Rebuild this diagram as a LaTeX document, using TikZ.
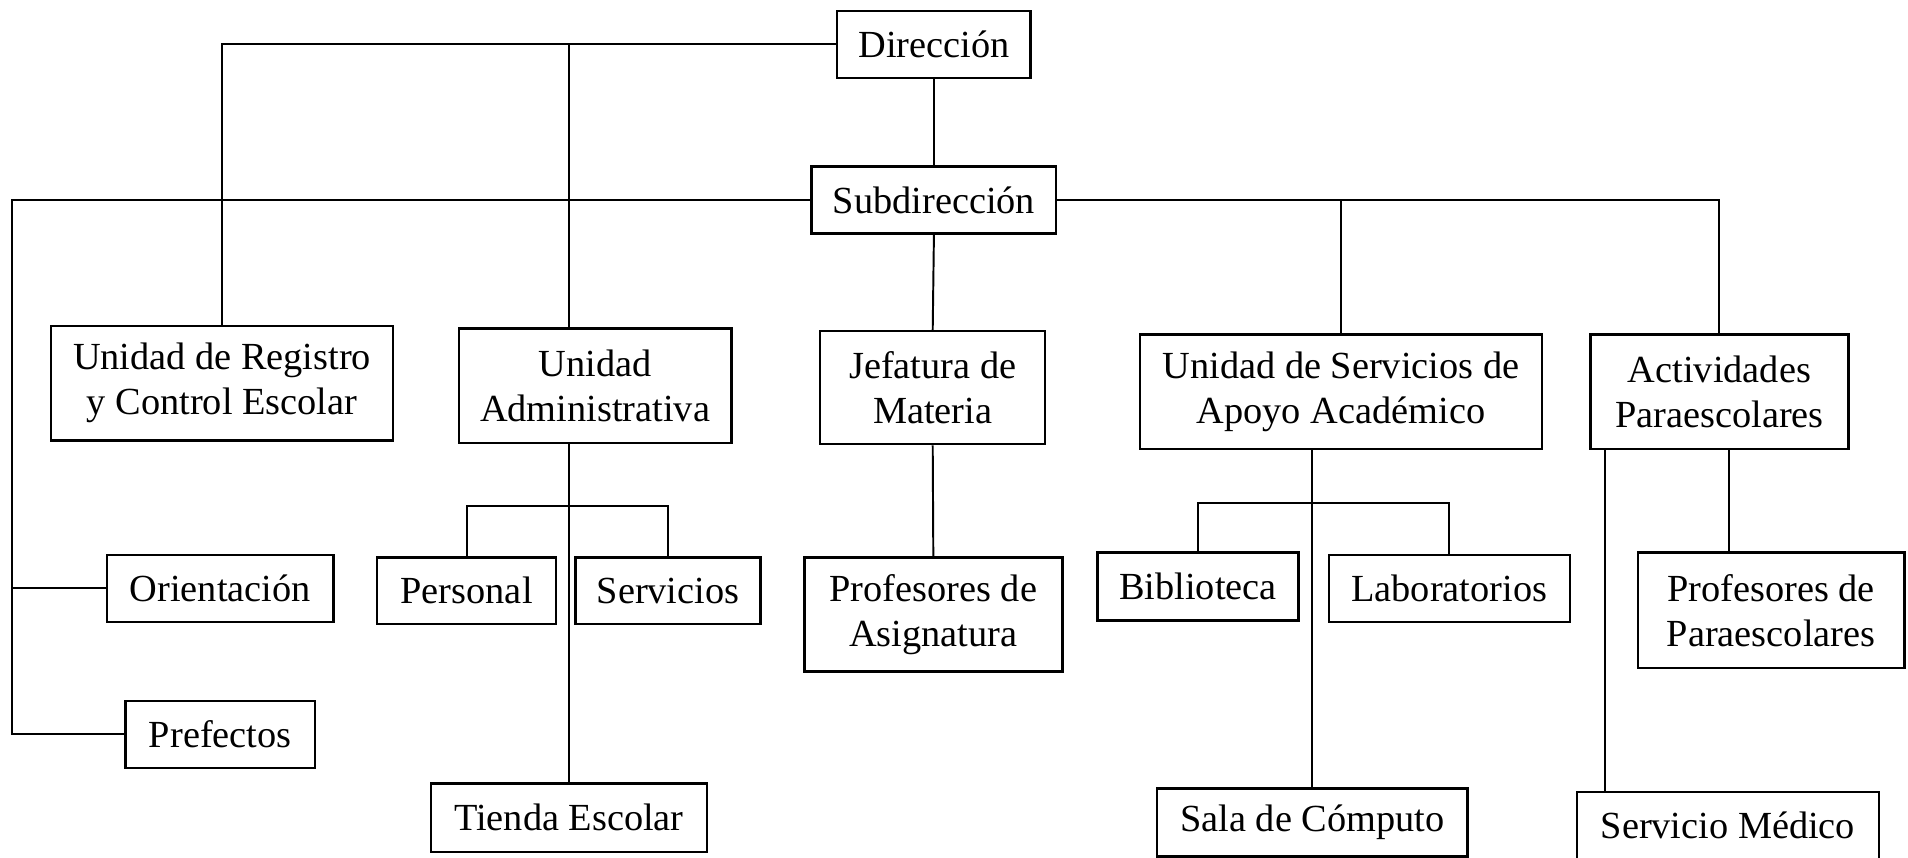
\documentclass[tikz,border=0pt]{standalone}
\usepackage{fontspec}
\setmainfont{Liberation Serif}
\tikzset{>=stealth}

\begin{document}
\begin{tikzpicture}[x=1pt,y=-1pt,
  box/.style={draw, line width=2pt, inner sep=0pt, align=center, font=\fontsize{31.5}{37}\selectfont},
  con/.style={line width=1.6pt}]
\useasboundingbox (0,0) rectangle (1568,705);
\node[box, minimum width=159, minimum height=55] (dir) at (767.5,36.5) {Dirección};
\node[box, minimum width=201, minimum height=55] (subdir) at (767.5,164.5) {Subdirección};
\node[box, minimum width=281, minimum height=94] (registro) at (182.5,315) {Unidad de Registro\\y Control Escolar};
\node[box, minimum width=224, minimum height=94] (admin) at (489,317) {Unidad\\Administrativa};
\node[box, minimum width=185, minimum height=93] (jefatura) at (766.5,318.5) {Jefatura de\\Materia};
\node[box, minimum width=330, minimum height=94] (apoyo) at (1102,322) {Unidad de Servicios de\\Apoyo Académico};
\node[box, minimum width=212, minimum height=94] (activ) at (1413,322) {Actividades\\Paraescolares};
\node[box, minimum width=186, minimum height=55] (orient) at (181,483.5) {Orientación};
\node[box, minimum width=156, minimum height=55] (prefectos) at (181,603.5) {Prefectos};
\node[box, minimum width=147, minimum height=55] (personal) at (383.5,485.5) {Personal};
\node[box, minimum width=152, minimum height=55] (servicios) at (549,485.5) {Servicios};
\node[box, minimum width=227, minimum height=56] (tienda) at (467.5,672) {Tienda Escolar};
\node[box, minimum width=212, minimum height=94] (profasig) at (767,505) {Profesores de\\Asignatura};
\node[box, minimum width=165, minimum height=56] (biblio) at (984.5,482) {Biblioteca};
\node[box, minimum width=198, minimum height=55] (labs) at (1191,483.5) {Laboratorios};
\node[box, minimum width=255, minimum height=56] (sala) at (1078.5,676) {Sala de Cómputo};
\node[box, minimum width=219, minimum height=95] (profpara) at (1455.5,501.5) {Profesores de\\Paraescolares};
\node[box, minimum width=248, minimum height=55] (medico) at (1420,678.5) {Servicio Médico};
\coordinate (lft) at (10,0);
\coordinate (mstem) at ([xshift=24pt]medico.north west);
\coordinate (pstem) at ([xshift=8pt]activ.south);
\draw[con] (dir.west) -| (registro.north);
\draw[con] (dir.west -| tienda) -- (admin.north -| tienda);
\draw[con] (admin.south -| tienda) -- (tienda.north);
\draw[con] (dir.south) -- (subdir.north);
\draw[con] (subdir.west) -| (lft |- prefectos.west) -- (prefectos.west);
\draw[con] (lft |- orient.west) -- (orient.west);
\draw[con] (subdir.east) -| (activ.north);
\draw[con] (subdir.east -| apoyo.north) -- (apoyo.north);
\draw[con] (subdir.south) -- (jefatura.north);
\draw[con] (personal.north) -- ++(0,-41) -| (servicios.north);
\draw[con] (jefatura.south) -- (profasig.north);
\draw[con] (apoyo.south -| sala) -- (sala.north);
\draw[con] (biblio.north) -- ++(0,-40) -| (labs.north);
\draw[con] (activ.south -| mstem) -- (mstem);
\draw[con] (pstem) -- (pstem |- profpara.north);
\end{tikzpicture}
\end{document}
